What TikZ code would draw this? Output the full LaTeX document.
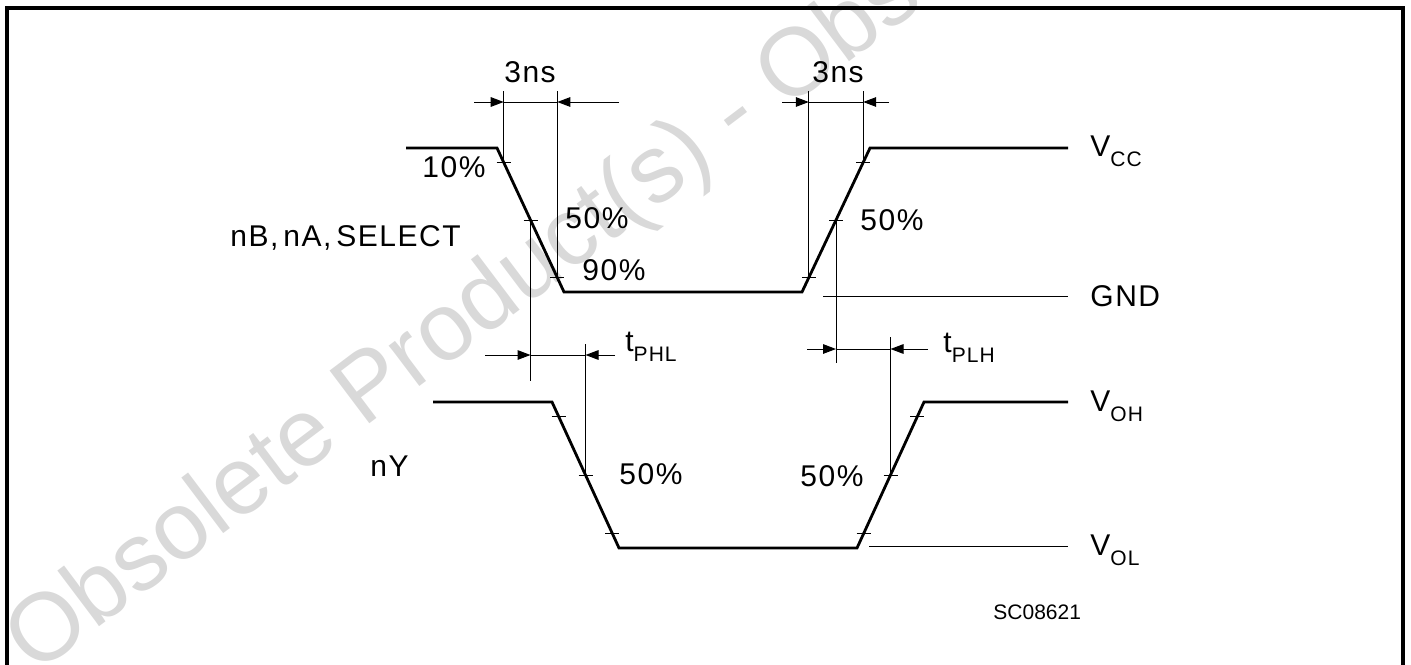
\documentclass[tikz,border=0pt]{standalone}
\usepackage{fontspec}
\setmainfont{Liberation Sans}[LetterSpace=5]
\newfontfamily\wmfont{Liberation Sans}
\newfontfamily\codefont{Liberation Sans}
\usetikzlibrary{arrows.meta,calc}
\tikzset{
  sig/.style={line width=1.4pt, line join=miter},
  thinline/.style={line width=0.5pt},
  framel/.style={line width=1.6pt},
  dimarrow/.style={line width=0.5pt, -{Triangle[length=6.5pt,width=4.8pt]}},
  lbl/.style={anchor=base west, inner sep=0pt, font=\fontsize{15}{17}\selectfont},
  lblc/.style={anchor=base, inner sep=0pt, font=\fontsize{15}{17}\selectfont},
  small/.style={anchor=base west, inner sep=0pt, font=\codefont\fontsize{10.5}{12}\selectfont},
  wm/.style={anchor=base west, inner sep=0pt, rotate=37, text=black!15, font=\wmfont\fontsize{48}{52}\selectfont}
}
\newcommand{\subtxt}[1]{\raisebox{-5pt}{\fontsize{10.5}{12}\selectfont #1}}
\begin{document}
\begin{tikzpicture}[x=0.5pt,y=-0.5pt]
\useasboundingbox (0,0) rectangle (1411,664);
\clip (0,0) rectangle (1411,664);
% watermark
\node[wm] (wmark) at (35,676) {Obsolete Product(s) - Obsolete Product(s)};
% frame
\draw[framel] (7,700) -- (7,8) -- (1403,8) -- (1403,700);

% reference y levels
\coordinate (extTop) at (0,91);
\coordinate (dimTop) at (0,102);
\coordinate (dimPHL) at (0,355);
\coordinate (dimPLH) at (0,349);

% input waveform
\coordinate (i0) at (406,148);
\coordinate (i1) at (497,148);
\coordinate (i2) at (564,292);
\coordinate (i3) at (802,292);
\coordinate (i4) at (870,148);
\coordinate (i5) at (1068,148);
\draw[sig] (i0) -- (i1) -- (i2) -- (i3) -- (i4) -- (i5);

\coordinate (f10) at ($(i1)!0.1!(i2)$);
\coordinate (f50) at ($(i1)!0.5!(i2)$);
\coordinate (f90) at ($(i1)!0.9!(i2)$);
\coordinate (r10) at ($(i3)!0.1!(i4)$);
\coordinate (r50) at ($(i3)!0.5!(i4)$);
\coordinate (r90) at ($(i3)!0.9!(i4)$);
\foreach \p in {f10,f50,f90,r10,r50,r90}
  \draw[thinline] ($(\p)+(-7,0)$) -- ($(\p)+(7,0)$);

% output waveform
\coordinate (o0) at (433,402);
\coordinate (o1) at (552,402);
\coordinate (o2) at (619,548);
\coordinate (o3) at (857,548);
\coordinate (o4) at (924,402);
\coordinate (o5) at (1068,402);
\draw[sig] (o0) -- (o1) -- (o2) -- (o3) -- (o4) -- (o5);

\coordinate (g10) at ($(o1)!0.1!(o2)$);
\coordinate (g50) at ($(o1)!0.5!(o2)$);
\coordinate (g90) at ($(o1)!0.9!(o2)$);
\coordinate (h10) at ($(o3)!0.1!(o4)$);
\coordinate (h50) at ($(o3)!0.5!(o4)$);
\coordinate (h90) at ($(o3)!0.9!(o4)$);
\foreach \p in {g10,g50,g90,h10,h50,h90}
  \draw[thinline] ($(\p)+(-7,0)$) -- ($(\p)+(7,0)$);

% reference lines GND and VOL
\coordinate (gndA) at (823,296);
\coordinate (gndB) at (1068,296);
\draw[thinline] (gndA) -- (gndB);
\coordinate (volA) at (869,546);
\coordinate (volB) at (1068,546);
\draw[thinline] (volA) -- (volB);

% extension lines, top
\draw[thinline] (f10) -- (f10 |- extTop);
\draw[thinline] (f90) -- (f90 |- extTop);
\draw[thinline] (r10) -- (r10 |- extTop);
\draw[thinline] (r90) -- (r90 |- extTop);

% 3ns dimensions
\coordinate (a1s) at (474,102);
\coordinate (a1e) at (619,102);
\draw[dimarrow] (a1s) -- (f10 |- dimTop);
\draw[dimarrow] (a1e) -- (f90 |- dimTop);
\draw[thinline] (f10 |- dimTop) -- (f90 |- dimTop);
\coordinate (a2s) at (782,102);
\coordinate (a2e) at (889,102);
\draw[dimarrow] (a2s) -- (r10 |- dimTop);
\draw[dimarrow] (a2e) -- (r90 |- dimTop);
\draw[thinline] (r10 |- dimTop) -- (r90 |- dimTop);

% propagation delay extension lines
\coordinate (phlL) at (f50 |- 0,381);
\draw[thinline] (f50) -- (phlL);
\coordinate (phlR) at (g50 |- 0,344);
\draw[thinline] (g50) -- (phlR);
\coordinate (plhL) at (r50 |- 0,363);
\draw[thinline] (r50) -- (plhL);
\coordinate (plhR) at (h50 |- 0,337);
\draw[thinline] (h50) -- (plhR);

% tPHL / tPLH dimensions
\coordinate (b1s) at (485,355);
\coordinate (b1e) at (615,355);
\draw[dimarrow] (b1s) -- (f50 |- dimPHL);
\draw[dimarrow] (b1e) -- (g50 |- dimPHL);
\draw[thinline] (f50 |- dimPHL) -- (g50 |- dimPHL);
\coordinate (b2s) at (807,349);
\coordinate (b2e) at (928,349);
\draw[dimarrow] (b2s) -- (r50 |- dimPLH);
\draw[dimarrow] (b2e) -- (h50 |- dimPLH);
\draw[thinline] (r50 |- dimPLH) -- (h50 |- dimPLH);

% labels
\node[lblc] (ns1) at (530,82) {3ns};
\node[lblc] (ns2) at (838,82) {3ns};
\node[lbl] (p10) at (422,177) {10\%};
\node[lbl] (p50a) at (565,228) {50\%};
\node[lbl] (p90) at (582,280) {90\%};
\node[lbl] (p50b) at (860,230) {50\%};
\node[lbl] (inlbl) at (230,246) {nB,\,nA,\,SELECT};
\node[lbl] (outlbl) at (370,476) {nY};
\node[lbl] (p50c) at (619,484) {50\%};
\node[lbl] (p50d) at (800,486) {50\%};
\node[lbl] (tphl) at (625,351) {t\subtxt{PHL}};
\node[lbl] (tplh) at (943,352) {t\subtxt{PLH}};
\node[lbl] (vcc) at (1090,156) {V\subtxt{CC}};
\node[lbl] (gnd) at (1090,306) {GND};
\node[lbl] (voh) at (1090,411) {V\subtxt{OH}};
\node[lbl] (vol) at (1090,555) {V\subtxt{OL}};
\node[small] (code) at (993,619) {SC08621};
\end{tikzpicture}
\end{document}
